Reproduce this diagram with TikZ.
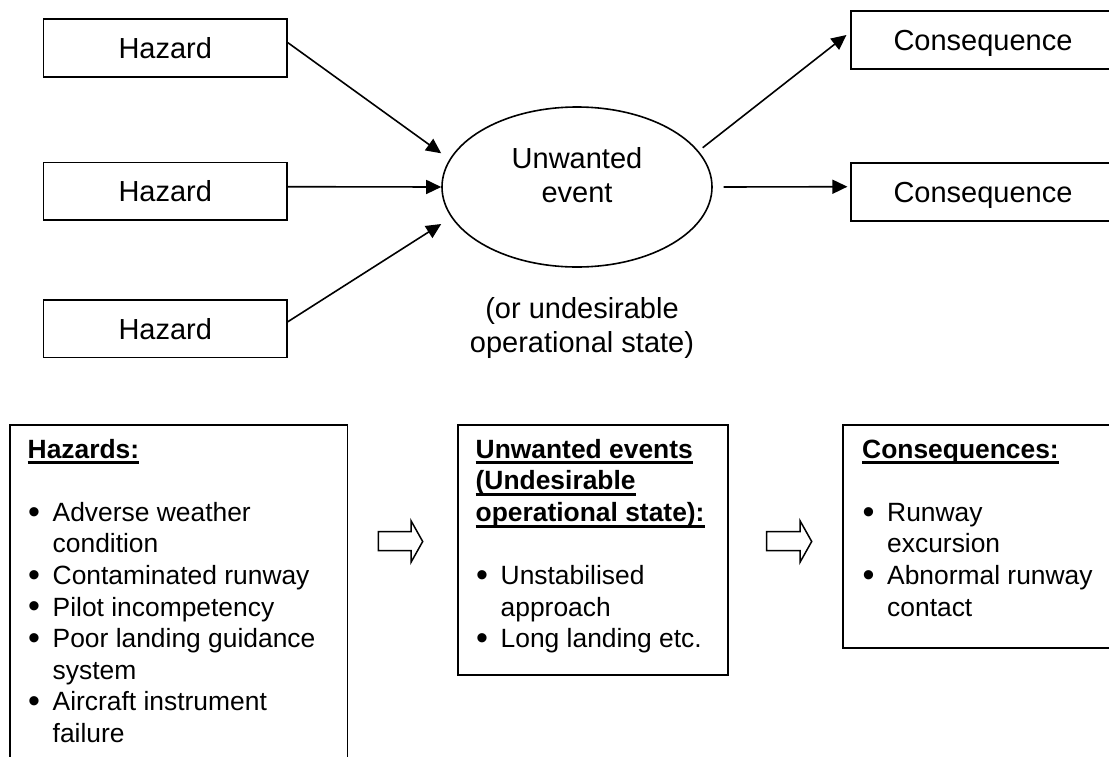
\documentclass[tikz,border=0pt]{standalone}
\usepackage{fontspec}
\setmainfont{Liberation Sans}
\usetikzlibrary{arrows.meta,shapes.geometric}

% text sizes (1pt = one unit of the drawing)
\newcommand\topfont{\fontsize{29}{34}\selectfont}
\newcommand\lowfont{\fontsize{26.4}{31.6}\selectfont}
% heavy underline placed at a fixed depth below the baseline
\newcommand\hdul[1]{\setbox0\hbox{\bfseries #1}\rlap{\rule[-6.3pt]{\wd0}{3pt}}\box0}
% bullet line and continuation line
\newcommand\bitem{\hspace*{0.5pt}\makebox[24.5pt][l]{\raisebox{-1.8pt}{\fontsize{34}{34}\selectfont •}}}
\newcommand\bcont{\hspace*{25pt}}

\begin{document}
\begin{tikzpicture}[x=1pt,y=-1pt,
  hzbox/.style={draw,line width=1.7pt,rectangle,inner sep=0pt,
    minimum width=243.5pt,minimum height=57.7pt,text depth=0pt,font=\topfont},
  cqbox/.style={hzbox,minimum width=264pt},
  listbox/.style={draw,line width=1.7pt,rectangle,inner sep=0pt,anchor=north west},
  listtext/.style={anchor=base west,inner sep=0pt,font=\lowfont},
  conn/.style={line width=1.6pt,-{Triangle[length=15pt,width=14pt]}},
  blockarrow/.style={draw,line width=1.5pt,fill=white,line join=miter}]

\useasboundingbox (0,0) rectangle (1109,756);
\fill[white] (0,0) rectangle (1109,756);
\clip (0,0) rectangle (1109,756);

% hazards feeding the unwanted event
\node[hzbox] (h1) at (165.3,47.9) {Hazard};
\node[hzbox] (h2) at (165.3,191.4) {Hazard};
\node[hzbox] (h3) at (165.3,328.5) {Hazard};

\node[draw,ellipse,line width=1.6pt,inner sep=0pt,
      minimum width=270pt,minimum height=160pt] (ev) at (577,187) {};
\node[anchor=base,inner sep=0pt,font=\topfont] (evt) at (577,168)
  {\begin{tabular}[t]{@{}c@{}}Unwanted\\event\end{tabular}};
\node[anchor=base,inner sep=0pt,font=\topfont] (evnote) at (582,318)
  {\begin{tabular}[t]{@{}c@{}}(or undesirable\\operational state)\end{tabular}};

% consequences
\node[cqbox] (c1) at (983,39.9) {Consequence};
\node[cqbox] (c2) at (983,192) {Consequence};

% connectors
\draw[conn] ([yshift=5.2pt]h1.east) -- ([yshift=33.7pt]ev.west);
\draw[conn] ([yshift=4.7pt]h2.east) -- (ev.west);
\draw[conn] ([yshift=6.8pt]h3.east) -- ([yshift=-37pt]ev.west);
\draw[conn] ([shift={(125.7pt,39.3pt)}]ev.center) -- ([shift={(-3.7pt,4.9pt)}]c1.west);
\draw[conn] ([xshift=10.7pt]ev.east) -- ([shift={(-2.7pt,5.3pt)}]c2.west);

% lower summary boxes
\node[listbox,minimum width=337.7pt,minimum height=400pt] (bhz) at (9,424) {};
\node[listbox,minimum width=270pt,minimum height=250pt] (bue) at (457.3,424) {};
\node[listbox,minimum width=300pt,minimum height=223.3pt] (bcq) at (842.3,424) {};

\node[listtext] (hzt) at (27.5,458) {\begin{tabular}[t]{@{}l@{}}
  \hdul{Hazards:}\\
  \\
  \bitem Adverse weather\\
  \bcont condition\\
  \bitem Contaminated runway\\
  \bitem Pilot incompetency\\
  \bitem Poor landing guidance\\
  \bcont system\\
  \bitem Aircraft instrument\\
  \bcont failure
\end{tabular}};

\node[listtext] (uet) at (475.5,458) {\begin{tabular}[t]{@{}l@{}}
  \hdul{Unwanted events}\\
  \hdul{(Undesirable}\\
  \hdul{operational state):}\\
  \\
  \bitem Unstabilised\\
  \bcont approach\\
  \bitem Long landing etc.
\end{tabular}};

\node[listtext] (cqt) at (862,458) {\begin{tabular}[t]{@{}l@{}}
  \hdul{Consequences:}\\
  \\
  \bitem Runway\\
  \bcont excursion\\
  \bitem Abnormal runway\\
  \bcont contact
\end{tabular}};

% hollow block arrows between the summary boxes
\draw[blockarrow] (378.3,531.7) -- (411,531.7) -- (411,520.7) -- (422.7,541.5)
  -- (411,562.3) -- (411,550.7) -- (378.3,550.7) -- cycle;
\draw[blockarrow] (766.7,531.7) -- (800,531.7) -- (800,520.7) -- (811.7,541.5)
  -- (800,562.3) -- (800,550.7) -- (766.7,550.7) -- cycle;
\end{tikzpicture}
\end{document}
